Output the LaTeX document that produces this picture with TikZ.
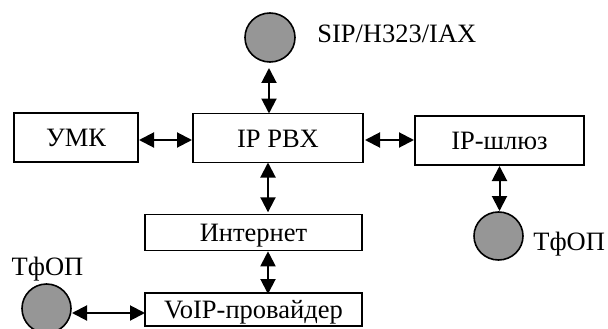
\documentclass[tikz,border=0pt]{standalone}
\usepackage{fontspec}
\setmainfont{Liberation Serif}
\usetikzlibrary{arrows.meta,shapes.geometric}
\definecolor{colorcirc}{RGB}{150,150,150}
\tikzset{
  blk/.style={draw,line width=1.6pt,inner sep=0pt,text height=18pt,text depth=0pt},
  circ/.style={draw,ellipse,fill=colorcirc,line width=1.6pt,inner sep=0pt},
  conn/.style={line width=2pt,{Triangle[width=15pt,length=15pt]}-{Triangle[width=15pt,length=15pt]}}
}
\begin{document}
\begin{tikzpicture}[x=1pt,y=-1pt,every node/.style={font=\fontsize{26.5}{31}\selectfont,outer sep=0pt}]
\useasboundingbox (0,0) rectangle (608,329);

\node[blk,minimum width=124pt,minimum height=49pt] (umk)  at (76,137.5)    {УМК};
\node[blk,minimum width=170pt,minimum height=49pt] (pbx)  at (278,138)     {IP PBX};
\node[blk,minimum width=169pt,minimum height=49pt] (gw)   at (499.5,140.5) {IP-шлюз};
\node[blk,minimum width=217pt,minimum height=36pt] (inet) at (253.5,232.3) {Интернет};
\node[blk,minimum width=217pt,minimum height=33pt] (voip) at (253.5,309.5) {VoIP-провайдер};

\node[circ,minimum width=50pt,minimum height=49pt] (sipc) at (270,37.5)  {};
\node[circ,minimum width=49pt,minimum height=48pt] (rtc)  at (498.5,236) {};
\node[circ,minimum width=49pt,minimum height=49pt] (ltc)  at (46.5,308.5) {};

\node[anchor=base west] (siplbl) at (314,43)  {SIP/H323/IAX};
\node[anchor=base east,inner sep=0pt] (rtlbl)  at (605,250) {ТфОП};
\node[anchor=base] (ltlbl) at (47.5,275) {ТфОП};

\draw[conn] ([xshift=-1pt,yshift=-6pt]sipc.south) -- ([xshift=-1pt]sipc.south |- pbx.north);
\draw[conn] ([xshift=1pt]umk.east |- 0,140) -- ([xshift=-1pt]pbx.west |- 0,140);
\draw[conn] ([xshift=2pt]pbx.east |- 0,140) -- ([xshift=-1pt]gw.west |- 0,140);
\draw[conn] ([yshift=-1pt]gw.south) -- ([yshift=1pt]gw.south |- rtc.north);
\draw[conn] ([xshift=-2pt]sipc.south |- pbx.south) -- ([xshift=-2pt,yshift=2pt]sipc.south |- inet.north);
\draw[conn] ([xshift=-2pt,yshift=-1pt]sipc.south |- inet.south) -- ([xshift=-2pt,yshift=-1pt]sipc.south |- voip.north);
\draw[conn] ([xshift=1pt]ltc.east |- 0,313) -- (voip.west |- 0,313);

\end{tikzpicture}
\end{document}
